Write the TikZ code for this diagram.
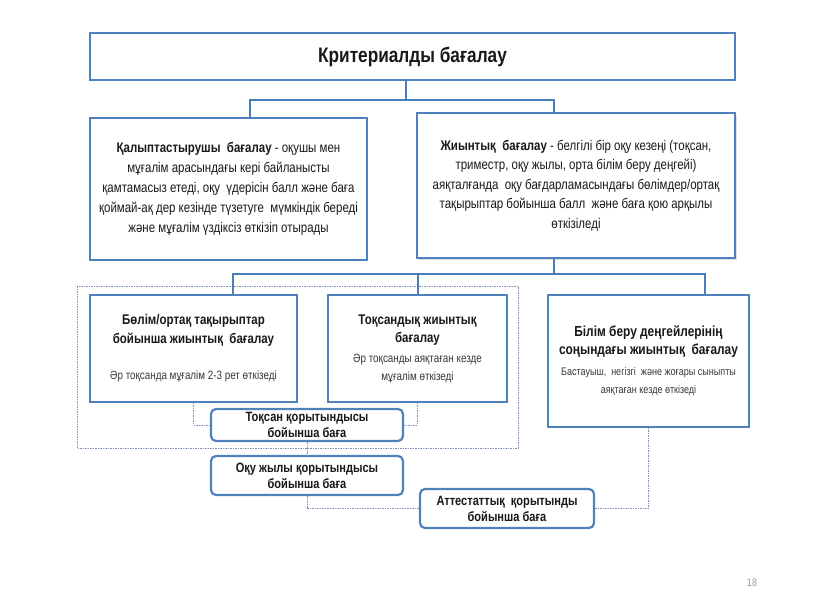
\documentclass[tikz,border=0pt]{standalone}
\usepackage{fontspec}
\setmainfont{Liberation Sans}[FakeStretch=0.82]
\usetikzlibrary{shadows}
\definecolor{bord}{RGB}{79,129,189}
\definecolor{treec}{RGB}{74,126,187}
\definecolor{dashc}{RGB}{125,145,180}
\definecolor{txt}{RGB}{25,25,25}
\definecolor{subt}{RGB}{55,55,55}
\newcommand{\ttlf}{\bfseries\fontsize{14}{19}\selectfont}
\newcommand{\rndf}{\bfseries\fontsize{13.5}{16}\selectfont}
\begin{document}
\begin{tikzpicture}[x=1pt,y=-1pt,
  box/.style={draw=bord, line width=1.6pt, fill=white, align=center, inner sep=0pt, text=txt},
  thinbox/.style={box, line width=1.2pt},
  rbox/.style={draw=bord, line width=2.2pt, rounded corners=5pt, fill=white, align=center, inner sep=0pt, text=txt, font=\rndf},
  tree/.style={draw=treec, line width=2.6pt},
  dconn/.style={draw=dashc, line width=0.9pt, dash pattern=on 1.5pt off 1pt},
  shad/.style={drop shadow={shadow xshift=2pt, shadow yshift=-2pt, opacity=0.25}}]
\useasboundingbox (0,0) rectangle (816,613);
\fill[white] (0,0) rectangle (816,613);

% dashed frame
\draw[dconn] (77,286) rectangle (518,448);

% junction coordinates
\coordinate (j0) at (406,100);
\coordinate (jL) at (250,100);
\coordinate (jR) at (554,100);
\coordinate (k0) at (554,274);
\coordinate (kA) at (233,274);
\coordinate (kB) at (418,274);
\coordinate (kC) at (705,274);

% nodes
\node[box, minimum width=645, minimum height=47, font={\bfseries\fontsize{21}{24}\selectfont}] (top) at (412.5,56.5) {Критериалды бағалау};

\node[box, minimum width=277, minimum height=142, font={\fontsize{14}{20}\selectfont}] (form) at (228.5,189)
 {\textbf{Қалыптастырушы\ \ бағалау} - оқушы мен\\ мұғалім арасындағы кері байланысты\\ қамтамасыз етеді, оқу\ \ үдерісін балл және баға\\ қоймай-ақ дер кезінде түзетуге\ \ мүмкіндік береді\\ және мұғалім үздіксіз өткізіп отырады};

\node[thinbox, shad, minimum width=318, minimum height=145, font={\fontsize{14}{19.5}\selectfont}] (summ) at (576,185.5)
 {\textbf{Жиынтық\ \ бағалау} - белгілі бір оқу кезеңі (тоқсан,\\ триместр, оқу жылы, орта білім беру деңгейі)\\ аяқталғанда\ \ оқу бағдарламасындағы бөлімдер/ортақ\\ тақырыптар бойынша балл\ \ және баға қою арқылы\\ өткізіледі};

\draw[tree] (top.south -| j0) -- (j0);
\draw[tree] (jL |- form.north) -- (jL) -- (jR) -- (jR |- summ.north);

\node[box, minimum width=207, minimum height=107, font={\fontsize{12}{19}\selectfont}] (bolim) at (193.5,348.5)
 {{\ttlf Бөлім/ортақ тақырыптар}\\ {\ttlf бойынша жиынтық\ \ бағалау}\\[17pt] {\color{subt}Әр тоқсанда мұғалім 2-3 рет өткізеді}};

\node[box, minimum width=179, minimum height=107, font={\fontsize{12}{18}\selectfont}] (toqs) at (417.5,348.5)
 {{\ttlf Тоқсандық жиынтық}\\ {\ttlf бағалау}\\[2pt] {\color{subt}Әр тоқсанды аяқтаған кезде}\\ {\color{subt}мұғалім өткізеді}};

\node[box, minimum width=201, minimum height=132, font={\fontsize{11}{18}\selectfont}] (bilim) at (648.5,361)
 {{\bfseries\fontsize{14.5}{18}\selectfont Білім беру деңгейлерінің}\\ {\bfseries\fontsize{14.5}{18}\selectfont соңындағы жиынтық\ \ бағалау}\\[3pt] {\color{subt}Бастауыш,\ \ негізгі\ \ және жоғары сыныпты}\\ {\color{subt}аяқтаған кезде өткізеді}};

\draw[tree] (summ.south -| k0) -- (k0);
\draw[tree] (kA |- bolim.north) -- (kA) -- (kC) -- (kC |- bilim.north);
\draw[tree] (kB) -- (kB |- toqs.north);

\node[rbox, minimum width=192, minimum height=32] (tq) at (307,425) {Тоқсан қорытындысы\\ бойынша баға};
\node[rbox, minimum width=192, minimum height=39] (oqu) at (307,475.5) {Оқу жылы қорытындысы\\ бойынша баға};
\node[rbox, minimum width=174, minimum height=39] (att) at (507,508.5) {Аттестаттық\ \ қорытынды\\ бойынша баға};

\draw[dconn] (bolim.south) |- (tq.west);
\draw[dconn] (toqs.south) |- (tq.east);
\draw[dconn] (tq.south) -- (oqu.north);
\draw[dconn] (oqu.south) |- (att.west);
\draw[dconn] (att.east) -| (bilim.south);

\node[text=black!40, font=\fontsize{11}{13}\selectfont] (pg) at (752,583) {18};
\end{tikzpicture}
\end{document}
